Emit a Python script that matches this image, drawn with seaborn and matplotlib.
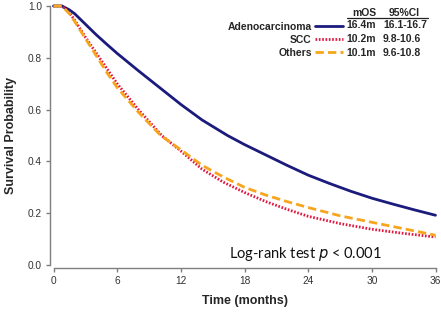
import numpy as np
import pandas as pd
import matplotlib
matplotlib.use("Agg")
import matplotlib.pyplot as plt
import seaborn as sns
from matplotlib.lines import Line2D

# ---- data ----
groups = ["Adenocarcinoma", "SCC", "Others"]
adeno_t = [0, 0.8, 1.5, 2, 3, 4, 5, 6, 8, 10, 12, 14, 16.4, 18, 20, 22, 24, 26, 28, 30, 32, 34, 36]
adeno_s = [1.0, 1.0, 0.985, 0.97, 0.93, 0.89, 0.853, 0.817, 0.75, 0.685, 0.62, 0.56, 0.50, 0.465,
           0.425, 0.385, 0.347, 0.315, 0.285, 0.258, 0.235, 0.213, 0.192]
scc_t = [0, 0.8, 1.5, 2, 3, 4, 5, 6, 8, 10.2, 12, 14, 16, 18, 20, 22, 24, 27, 30, 33, 36]
scc_s = [1.0, 1.0, 0.975, 0.945, 0.88, 0.82, 0.76, 0.70, 0.60, 0.50, 0.44, 0.37, 0.32, 0.28,
         0.245, 0.215, 0.188, 0.16, 0.138, 0.122, 0.108]
oth_t = [0, 0.8, 1.5, 2, 3, 4, 5, 6, 8, 10.1, 12, 14, 16, 18, 20, 22, 24, 27, 30, 33, 36]
oth_s = [1.0, 1.0, 0.97, 0.94, 0.875, 0.81, 0.745, 0.685, 0.59, 0.50, 0.445, 0.385, 0.34, 0.30,
         0.27, 0.245, 0.222, 0.19, 0.165, 0.14, 0.115]
mos = ["16.4m", "10.2m", "10.1m"]
ci = ["16.1-16.7", "9.8-10.6", "9.6-10.8"]
xticks = [0, 6, 12, 18, 24, 30, 36]
yticks = [0.0, 0.2, 0.4, 0.6, 0.8, 1.0]

colors = {"Adenocarcinoma": "#1b1b7d", "SCC": "#e0183f", "Others": "#f7a51c"}
dashes = {"Adenocarcinoma": "", "SCC": (0.6, 0.6), "Others": (3, 1.5)}

df = pd.concat([
    pd.DataFrame({"time": adeno_t, "surv": adeno_s, "group": "Adenocarcinoma"}),
    pd.DataFrame({"time": scc_t, "surv": scc_s, "group": "SCC"}),
    pd.DataFrame({"time": oth_t, "surv": oth_s, "group": "Others"}),
], ignore_index=True)

sns.set_style("white")
plt.rcParams["font.family"] = ["Liberation Sans", "DejaVu Sans"]

W, H = 441, 312
fig = plt.figure(figsize=(W / 100, H / 100), dpi=100)
ax = fig.add_axes([53.5 / W, 47 / H, (435.5 - 53.5) / W, (265 - 6) / H])

sns.lineplot(data=df, x="time", y="surv", hue="group", style="group",
             hue_order=groups, style_order=groups, palette=colors, dashes=dashes,
             linewidth=2.0, ax=ax, legend=False, estimator=None, sort=False)
for ln in ax.lines:
    ln.set_clip_on(False)

ax.set_xlim(0, 36)
ax.set_ylim(0, 1)
ax.set_xticks(xticks)
ax.set_xticklabels([str(v) for v in xticks])
ax.set_yticks(yticks)
ax.set_yticklabels([f"{v:.1f}" for v in yticks])

sns.despine(ax=ax, offset=2.2)
for s in ["left", "bottom"]:
    ax.spines[s].set_color("#7f7f7f")
    ax.spines[s].set_linewidth(1.0)
ax.spines["bottom"].set_bounds(0, 36)
ax.spines["left"].set_bounds(0, 1)
ax.tick_params(axis="both", direction="out", length=3, width=1.0, color="#7f7f7f",
               labelsize=7.3, labelcolor="#333333", pad=3, left=True, bottom=True)

ax.set_xlabel("Time (months)", fontsize=9, fontweight="bold", labelpad=6)
ax.set_ylabel("Survival Probability", fontsize=9, fontweight="bold", labelpad=8)

# legend: labels right-aligned, then line sample
handles = [Line2D([], [], color=colors[g], linewidth=2.0,
                  linestyle="-" if dashes[g] == "" else (0, dashes[g])) for g in groups]
leg = ax.legend(handles, groups, markerfirst=False, frameon=False, loc="upper right",
                bbox_to_anchor=(343 / W, 1 - 21.5 / H), bbox_transform=fig.transFigure,
                prop={"weight": "bold", "size": 7.5}, handlelength=2.7, handletextpad=0.3,
                labelspacing=0.3, borderpad=0, borderaxespad=0)

row_y = [25, 39, 52.5]
fig.text(352 / W, 1 - 12.5 / H, "mOS", fontsize=7.5, fontweight="bold", va="center", ha="left")
fig.text(389 / W, 1 - 12.5 / H, "95%CI", fontsize=7.5, fontweight="bold", va="center", ha="left")
fig.add_artist(Line2D([347 / W, 428 / W], [1 - 17.5 / H, 1 - 17.5 / H], color="#222222",
                      linewidth=0.9, transform=fig.transFigure))
for y, m, c in zip(row_y, mos, ci):
    fig.text(346 / W, 1 - y / H, m, fontsize=7.5, fontweight="bold", va="center", ha="left")
    fig.text(383 / W, 1 - y / H, c, fontsize=7.5, fontweight="bold", va="center", ha="left")

fig.text(305 / W, 1 - 254 / H, "Log-rank test $\\mathit{p}$ < 0.001", fontsize=10.5,
         family=["Lato", "DejaVu Sans"], ha="center", va="center", color="#111111")

fig.savefig("out.png", dpi=100)
